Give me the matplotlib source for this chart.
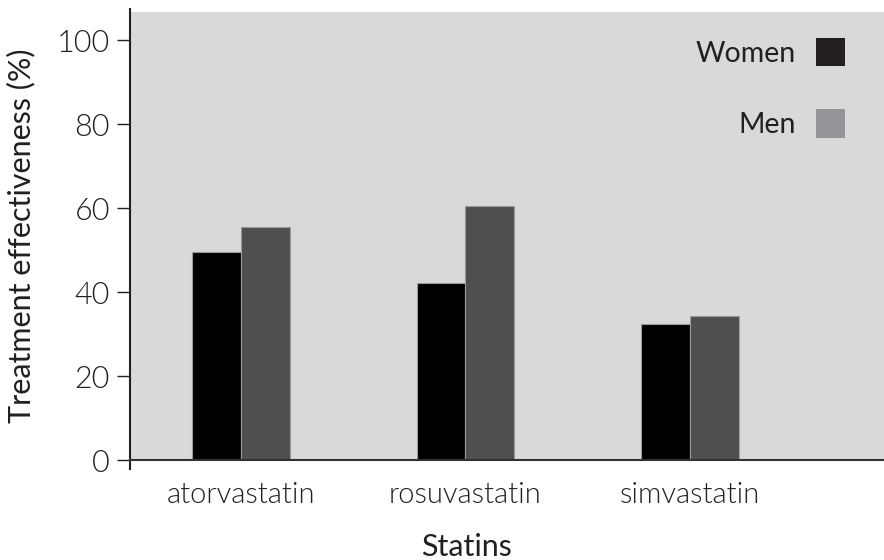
import matplotlib.pyplot as plt
import numpy as np
from matplotlib.patches import Patch

statins = ['atorvastatin', 'rosuvastatin', 'simvastatin']
women = [49.5, 42.1, 32.4]
men = [55.5, 60.5, 34.3]
yticks = [0, 20, 40, 60, 80, 100]

plt.rcParams['font.family'] = ['Lato', 'DejaVu Sans']

fig = plt.figure(figsize=(8.84, 5.6), dpi=100)
ax = fig.add_axes([130 / 884, 100 / 560, 754 / 884, 448 / 560])
ax.set_facecolor('#d9d9d9')

x = np.arange(len(statins))
w = 0.218
ax.bar(x - w / 2, women, w, color='#000000', edgecolor='#9a9a9a', linewidth=0.8, zorder=2)
ax.bar(x + w / 2, men, w, color='#4f4f4f', edgecolor='#9a9a9a', linewidth=0.8, zorder=2)

ax.set_xlim(-0.494, 2.864)
ax.set_ylim(0, 106.7)

ax.spines['top'].set_visible(False)
ax.spines['right'].set_visible(False)
ax.spines['left'].set_color('#231f20')
ax.spines['left'].set_linewidth(1.5)
ax.spines['left'].set_bounds(-2.1, 107.4)
ax.spines['bottom'].set_color('#333333')
ax.spines['bottom'].set_linewidth(1.5)

ax.set_yticks(yticks)
ax.set_yticklabels([str(v) for v in yticks], fontsize=22, fontweight=300, color='#231f20')
ax.tick_params(axis='y', length=9.4, width=1, color='#231f20', pad=5)

ax.set_xticks(x)
ax.set_xticklabels(statins, fontsize=21, fontweight=300, color='#231f20')
ax.tick_params(axis='x', length=0, pad=16)

ax.set_ylabel('Treatment effectiveness (%)', fontsize=22, color='#231f20')
ax.yaxis.set_label_coords(-0.125, 0.5)
ax.set_xlabel('Statins', fontsize=22, color='#231f20')
ax.xaxis.set_label_coords((467 - 130) / 754, -0.163)

handles = [Patch(facecolor='#231f20', edgecolor='none', label='Women'),
           Patch(facecolor='#939598', edgecolor='none', label='Men')]
leg = ax.legend(handles=handles, loc='upper right', bbox_to_anchor=(0.9483, 0.942),
                borderaxespad=0, borderpad=0, frameon=False, markerfirst=False, fontsize=20.5,
                handlelength=1.02, handleheight=1.15, handletextpad=0.72, labelspacing=1.5)
for t in leg.get_texts():
    t.set_color('#231f20')

fig.savefig('out.png', dpi=100)
